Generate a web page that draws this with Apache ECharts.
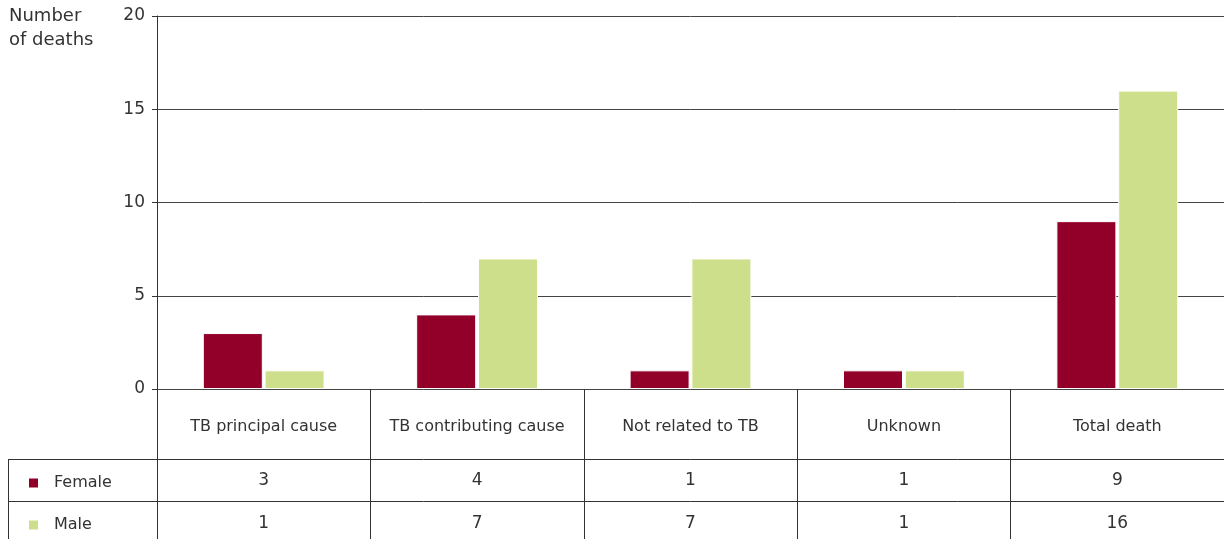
<!DOCTYPE html>
<html>
<head>
<meta charset="utf-8">
<script src="https://cdn.jsdelivr.net/npm/echarts@6/dist/echarts.min.js"></script>
<style>html,body{margin:0;padding:0;background:#fff}#c{width:1224px;height:539px}</style>
</head>
<body>
<div id="c"></div>
<script>
var categories = ['TB principal cause', 'TB contributing cause', 'Not related to TB', 'Unknown', 'Total death'];
var female = [3, 4, 1, 1, 9];
var male = [1, 7, 7, 1, 16];
var yTicks = [0, 5, 10, 15, 20];

var FONT = '"DejaVu Sans", sans-serif';
var TXT = '#333';
var chart = echarts.init(document.getElementById('c'));
function legendFor(name, top) {
  return {
    orient: 'vertical', left: 27, top: top, padding: 0, itemWidth: 11, itemHeight: 11,
    icon: 'rect', selectedMode: false,
    textStyle: {fontSize: 16, color: TXT, fontFamily: FONT, padding: [0, 0, 0, 10]},
    data: [name]
  };
}
chart.setOption({
  animation: false,
  textStyle: {fontFamily: FONT},
  grid: {left: 157, right: 0, top: 16, bottom: 150},
  legend: [legendFor('Female', 475), legendFor('Male', 517)],
  graphic: [
    {type: 'text', left: 9, top: 4, style: {text: 'Number\nof deaths', font: '18px ' + FONT, fill: TXT, lineHeight: 24}},
    {type: 'line', shape: {x1: 8, y1: 459.5, x2: 157, y2: 459.5}, style: {stroke: '#333', lineWidth: 1}},
    {type: 'line', shape: {x1: 8, y1: 501.5, x2: 157, y2: 501.5}, style: {stroke: '#333', lineWidth: 1}},
    {type: 'line', shape: {x1: 8.5, y1: 459, x2: 8.5, y2: 539}, style: {stroke: '#333', lineWidth: 1}}
  ],
  xAxis: [
    {type: 'category', data: categories, position: 'bottom', offset: 0,
     axisLine: {show: false},
     axisTick: {show: true, interval: 0, length: 70, lineStyle: {color: '#333'}},
     axisLabel: {interval: 0, margin: 30, fontSize: 16, color: TXT, fontFamily: FONT}},
    {type: 'category', data: female.map(String), position: 'bottom', offset: 70,
     axisLine: {show: true, lineStyle: {color: '#333'}},
     axisTick: {show: true, interval: 0, length: 42, lineStyle: {color: '#333'}},
     axisLabel: {interval: 0, margin: 13, fontSize: 17, color: TXT, fontFamily: FONT}},
    {type: 'category', data: male.map(String), position: 'bottom', offset: 112,
     axisLine: {show: true, lineStyle: {color: '#333'}},
     axisTick: {show: true, interval: 0, length: 40, lineStyle: {color: '#333'}},
     axisLabel: {interval: 0, margin: 14, fontSize: 17, color: TXT, fontFamily: FONT}}
  ],
  yAxis: {
    type: 'value', min: yTicks[0], max: yTicks[yTicks.length - 1], interval: 5,
    axisLine: {show: true, lineStyle: {color: '#333'}},
    axisTick: {show: true, length: 5, lineStyle: {color: '#333'}},
    axisLabel: {margin: 12, fontSize: 17, color: TXT, fontFamily: FONT},
    splitLine: {show: true, lineStyle: {color: '#444', width: 1}}
  },
  series: [
    {name: 'Female', type: 'bar', xAxisIndex: 0, data: female, barWidth: 60, barGap: '3%',
     itemStyle: {color: '#920029', borderColor: '#fff', borderWidth: 1}},
    {name: 'Male', type: 'bar', xAxisIndex: 0, data: male, barWidth: 60,
     itemStyle: {color: '#CDDF8A', borderColor: '#fff', borderWidth: 1}}
  ]
});
</script>
</body>
</html>
